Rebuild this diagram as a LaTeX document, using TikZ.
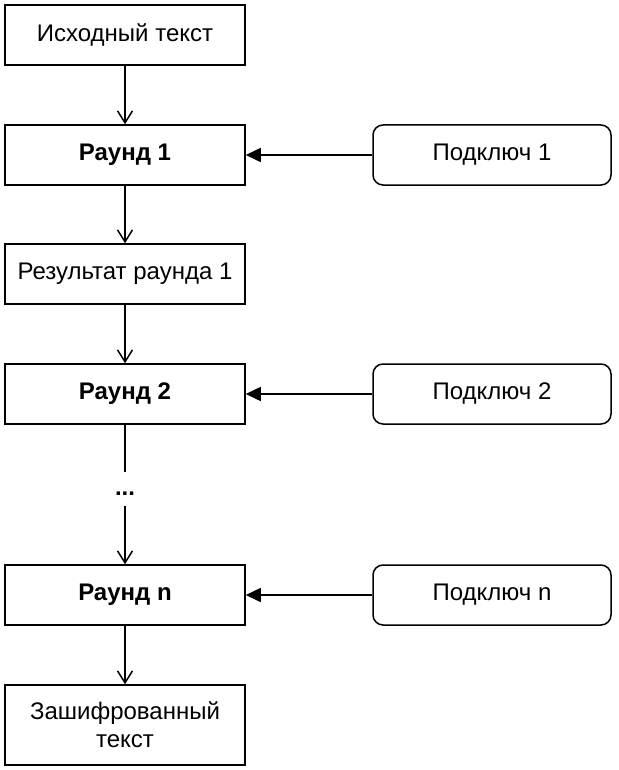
\documentclass[tikz,border=0pt]{standalone}
\usepackage{fontspec}
\setmainfont{Liberation Sans}
\usetikzlibrary{arrows.meta}
\begin{document}
\begin{tikzpicture}[x=1pt,y=-1pt,
  every node/.style={font=\fontsize{24}{28}\selectfont, inner sep=0pt, align=center},
  lbox/.style={draw, line width=1.5pt, minimum width=240pt, minimum height=60pt},
  kbox/.style={draw, line width=1.5pt, rounded corners=10pt, minimum width=238pt, minimum height=60pt},
  varr/.style={line width=1.5pt, -{Straight Barb[length=12pt,width=15pt]}},
  harr/.style={line width=1.5pt, -{Triangle[length=15pt,width=14pt]}},
  plain/.style={line width=1.5pt}
]
\useasboundingbox (0,0) rectangle (618,770);
\node[lbox] (src) at (125,35) {Исходный текст};
\node[lbox] (r1) at (125,155) {\textbf{Раунд 1}};
\node[lbox] (res1) at (125,274) {Результат раунда 1};
\node[lbox] (r2) at (125,394) {\textbf{Раунд 2}};
\node[minimum height=34pt, text height=17pt, text depth=5pt] (dots) at (125,489) {\textbf{...}};
\node[lbox] (rn) at (125,595) {\textbf{Раунд n}};
\node[lbox, minimum height=80pt] (enc) at (125,725) {Зашифрованный\\текст};
\node[kbox] (k1) at (492,155) {Подключ 1};
\node[kbox] (k2) at (492,394) {Подключ 2};
\node[kbox] (kn) at (492,595) {Подключ n};
\draw[varr] (src) -- (r1);
\draw[varr] (r1) -- (res1);
\draw[varr] (res1) -- (r2);
\draw[plain] (r2) -- (dots);
\draw[varr] (dots) -- (rn);
\draw[varr] (rn) -- (enc);
\draw[harr] (k1) -- (r1);
\draw[harr] (k2) -- (r2);
\draw[harr] (kn) -- (rn);
\end{tikzpicture}
\end{document}
